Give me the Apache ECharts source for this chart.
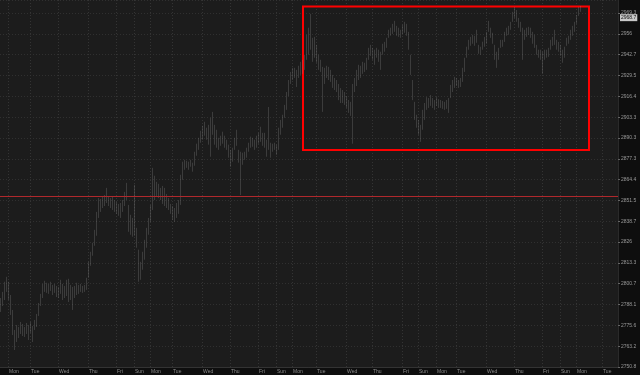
<!DOCTYPE html>
<html><head><meta charset="utf-8">
<script src="https://cdn.jsdelivr.net/npm/echarts@6/dist/echarts.min.js"></script>
<style>html,body{margin:0;padding:0;background:#0e0e0e}#c{width:640px;height:375px}</style>
</head><body><div id="c"></div>
<script>
// Right-axis tick labels (log-spaced price ticks)
const tickLabels = ['2750.8','2763.2','2775.6','2788.1','2800.7','2813.3','2826','2838.7','2851.5','2864.4','2877.3','2890.3','2903.3','2916.4','2929.5','2942.7','2956','2969.3'];
// Day labels on the time axis and the bar slot where each day starts
const dayNames = ['Mon','Tue','Wed','Thu','Fri','Sun','Mon','Tue','Wed','Thu','Fri','Sun','Mon','Tue','Wed','Thu','Fri','Sun','Mon','Tue','Wed','Thu','Fri','Sun','Mon','Tue'];
const dayTickBars = [4,15,29,44,58,67,75,86,101,115,129,138,146,158,173,186,201,209,218,228,243,257,271,280,288,301];
const slotCount = 309;
const yMinPrice = 2750.8, yMaxPrice = 2977.7;

// Bar highs and lows
const highs = [
2792.1,2795.8,2801.9,2804.9,2801.9,2793.9,2784.9,2772.9,2775.9,2774.7,2777.7,2776.5,2774.7,2777.1,2775.9,2777.7,2775.3,2778.9,2782.5,2789.1,2794.6,2800.6,
2802.5,2801.3,2800.6,2801.9,2800.0,2800.6,2799.4,2798.8,2803.1,2800.6,2799.4,2803.1,2803.7,2800.0,2798.8,2799.4,2801.3,2800.0,2800.6,2799.4,2800.0,2804.3,
2814.0,2820.1,2825.6,2833.5,2844.5,2853.0,
2852.4,2853.7,2854.9,2859.3,2854.3,2853.0,2853.7,2851.8,2850.6,2849.4,2850.0,2851.8,2856.8,2862.4,2848.8,2842.7,2840.8,2861.2,2834.7,
2821.4,2814.0,2820.1,2827.4,2834.7,2840.8,2848.8,2871.7,
2866.8,2863.0,2861.8,2859.3,2860.5,2859.3,2855.5,2853.0,2849.4,2848.1,2846.9,2850.0,2851.8,
2867.4,2875.5,2876.7,2876.1,2875.5,2876.7,2874.9,2881.7,2886.7,2890.4,
2894.8,2897.9,2900.4,2896.7,2898.5,2902.9,2906.6,2898.5,2895.4,2890.4,
2891.7,2894.2,2891.7,2889.2,2886.1,2882.9,2884.2,2890.4,2895.4,2882.9,
2881.7,2881.1,2881.7,2884.2,2887.3,2891.1,2890.4,2889.2,2891.7,2893.5,
2897.3,2893.5,2893.5,2889.2,2909.7,2887.3,2886.7,2887.3,2886.1,2896.7,
2901.6,2904.8,2911.0,2919.1,2926.7,2931.8,2934.4,2934.4,2933.1,2935.7,
2938.2,
2939.5,2942.7,2955.4,2959.9,2968.8,2953.5,2954.1,2949.0,2942.7,
2939.5,2935.0,2934.4,2935.7,2935.0,2933.1,2929.9,2928.0,2926.7,2924.2,
2921.6,2920.4,2919.1,2916.5,2914.1,2912.9,2924.2,2928.0,2933.1,2936.3,
2935.7,2938.2,2937.6,2940.8,2947.1,2949.0,2947.1,2945.9,2947.1,2945.9,
2944.6,2949.7,2950.9,2953.5,2958.6,2959.9,2962.4,2964.3,2961.1,2959.9,
2958.6,2961.8,2963.7,2962.4,2957.3,2942.7,2926.7,2912.9,2904.8,2901.6,
2898.5,
2907.9,2912.2,2915.9,2915.3,2917.2,2915.3,2914.1,2915.9,2914.6,
2914.1,2913.5,2912.9,2914.1,2915.3,2923.6,2926.7,2928.7,2928.0,2926.7,
2928.0,2934.4,2940.8,2947.8,2952.2,2954.1,2955.4,2954.8,2958.6,2949.0,
2947.8,2951.0,2954.1,2957.3,2964.3,2959.9,2956.7,2949.0,2944.6,2947.1,
2952.2,
2952.2,2957.3,2959.9,2961.1,2963.7,2970.1,2973.2,2971.3,2966.2,
2963.7,2959.9,2958.6,2959.9,2960.5,2959.9,2957.3,2955.4,2949.0,2945.9,
2945.9,2944.6,2945.9,2945.9,2947.1,2952.2,2954.1,2958.6,2952.2,2950.9,
2949.0,2945.9,2947.8,2953.5,2954.8,2958.6,2961.1,2963.7,2968.1,2973.2,
2973.9
];
const lows = [
2783.7,2787.3,2790.9,2795.8,2790.9,2781.9,2769.9,2760.9,2765.7,2768.1,2770.5,2769.3,2768.7,2770.5,2766.9,2771.1,2765.7,2772.9,2774.7,2781.3,2787.3,2792.1,
2795.8,2795.2,2794.6,2796.4,2793.9,2795.2,2792.7,2792.1,2794.6,2790.9,2792.1,2793.3,2789.7,2790.9,2784.9,2792.1,2793.9,2794.6,2795.8,2795.2,2795.8,2797.0,
2804.3,2811.6,2817.7,2823.8,2829.9,2840.8,
2844.5,2846.9,2848.1,2850.0,2848.1,2846.9,2845.7,2844.5,2843.3,2842.1,2840.8,2844.5,2848.1,2851.8,2832.3,2830.5,2829.3,2829.9,2822.6,
2801.9,2803.1,2809.2,2815.3,2822.6,2830.5,2838.4,2845.7,
2851.8,2854.3,2853.0,2851.8,2849.4,2848.1,2846.9,2845.7,2843.3,2839.6,2838.4,2840.8,2843.3,
2848.8,2864.3,2870.5,2871.7,2870.5,2872.4,2869.3,2873.0,2879.2,2882.9,
2887.3,2889.2,2891.7,2889.2,2886.1,2878.6,2892.3,2886.1,2884.2,2882.9,
2885.4,2886.7,2884.2,2882.9,2878.0,2872.4,2875.5,2882.9,2885.4,2874.9,
2854.9,2873.6,2876.7,2878.0,2881.7,2884.2,2884.8,2882.9,2884.2,2886.7,
2887.9,2885.4,2884.2,2878.6,2882.9,2878.0,2881.7,2882.9,2879.8,2882.9,
2892.3,2896.7,2902.9,2907.9,2916.5,2924.2,2926.7,2928.0,2922.3,2928.0,
2929.9,
2930.6,2933.1,2939.5,2942.7,2945.9,2938.2,2940.8,2937.6,2933.1,
2931.8,2906.6,2924.2,2928.0,2926.7,2925.5,2921.7,2920.4,2919.1,2914.0,
2912.2,2912.2,2911.0,2909.1,2906.0,2904.1,2886.7,2919.1,2922.9,2926.7,
2928.0,2930.6,2931.8,2933.1,2939.5,2942.0,2939.5,2936.3,2940.8,2938.2,
2933.1,2942.7,2944.6,2947.1,2953.5,2954.8,2956.0,2957.3,2954.8,2954.1,
2953.5,2956.0,2956.7,2954.8,2945.9,2929.9,2914.0,2901.6,2896.7,2892.3,
2887.9,
2895.4,2901.6,2907.9,2909.1,2910.4,2909.1,2907.9,2910.4,2909.1,
2909.1,2908.5,2907.9,2908.5,2906.0,2915.3,2919.1,2921.7,2922.9,2921.7,
2922.3,2925.5,2931.8,2940.8,2945.9,2948.4,2949.7,2948.4,2950.3,2943.3,
2942.7,2945.9,2947.8,2949.7,2957.3,2953.5,2949.7,2939.5,2934.4,2939.5,
2947.1,
2947.8,2950.9,2954.8,2955.4,2958.6,2963.7,2966.2,2963.7,2959.9,
2957.3,2939.5,2952.2,2954.1,2955.4,2953.5,2949.7,2947.1,2942.7,2940.8,
2939.5,2930.6,2939.5,2940.8,2941.4,2945.9,2948.4,2949.0,2945.9,2944.6,
2942.0,2937.6,2940.8,2948.4,2949.7,2952.2,2954.8,2957.3,2962.4,2967.5,
2970.1
];
// Annotations
const refLinePrice = 2854.1;
const lastPriceText = '2968.7';
const lastPriceLevel = 2966.4;
const boxStartBar = 151, boxEndBar = 294, boxTopPrice = 2973.5, boxBottomPrice = 2882.8;

const base = parseFloat(tickLabels[0]);
const step = Math.log(parseFloat(tickLabels[tickLabels.length - 1]) / base) / (tickLabels.length - 1);
const toK = p => Math.log(p / base) / step;
const cats = Array.from({length: slotCount}, (_, i) => String(i));
const tickSet = new Set(dayTickBars);
const candles = highs.map((h, i) => [toK(lows[i]), toK(h), toK(lows[i]), toK(h)]);
const FONT = '"Liberation Sans", Arial, sans-serif';

const chart = echarts.init(document.getElementById('c'));
chart.setOption({
  animation: false,
  backgroundColor: '#0e0e0e',
  grid: {left: 0, right: 22, top: 0, bottom: 8, show: true, backgroundColor: '#1c1c1c', borderWidth: 0},
  xAxis: {
    type: 'category', data: cats, boundaryGap: true,
    axisLine: {show: true, lineStyle: {color: '#333'}},
    axisTick: {show: false, interval: (i) => tickSet.has(i)},
    axisLabel: {
      interval: (i) => tickSet.has(i), align: 'left', margin: 2,
      color: '#8a8a8a', fontSize: 5, fontFamily: FONT,
      formatter: (v) => { const j = dayTickBars.indexOf(Number(v)); return j >= 0 ? dayNames[j] : ''; }
    },
    splitLine: {show: true, interval: (i) => tickSet.has(i), lineStyle: {color: '#343434', type: [1, 2], width: 1}}
  },
  yAxis: {
    type: 'value', position: 'right', min: 0, max: toK(yMaxPrice), interval: 1,
    axisLine: {show: true, lineStyle: {color: '#2a2a2a'}},
    axisTick: {show: true, length: 2, lineStyle: {color: '#666'}},
    axisLabel: {
      color: '#9a9a9a', fontSize: 5, fontFamily: FONT, margin: 3, showMaxLabel: false,
      formatter: (v) => Number.isInteger(Math.round(v * 1000) / 1000) ? (tickLabels[Math.round(v)] || '') : ''
    },
    splitLine: {show: true, lineStyle: {color: '#303030', type: [1, 2], width: 1}}
  },
  series: [{
    type: 'candlestick',
    data: candles,
    barWidth: 1.1,
    itemStyle: {color: '#8c8c8c', color0: '#8c8c8c', borderColor: '#8c8c8c', borderColor0: '#8c8c8c', borderWidth: 0.3},
    markLine: {
      silent: true, symbol: 'none', animation: false,
      data: [
        {yAxis: toK(refLinePrice), lineStyle: {color: '#b0282c', width: 1, type: 'solid'}, label: {show: false}},
        {yAxis: toK(lastPriceLevel), lineStyle: {color: 'rgba(0,0,0,0)', width: 0}, label: {show: true, position: 'end', distance: 2, formatter: lastPriceText,
          backgroundColor: '#c8c8c8', color: '#111', fontSize: 5, fontFamily: FONT, padding: [1, 1]}}
      ]
    },
    markArea: {
      silent: true,
      itemStyle: {color: 'rgba(0,0,0,0)', borderColor: '#ff0000', borderWidth: 2},
      data: [[{xAxis: String(boxStartBar), yAxis: toK(boxTopPrice)}, {xAxis: String(boxEndBar), yAxis: toK(boxBottomPrice)}]]
    }
  }]
});
</script></body></html>
